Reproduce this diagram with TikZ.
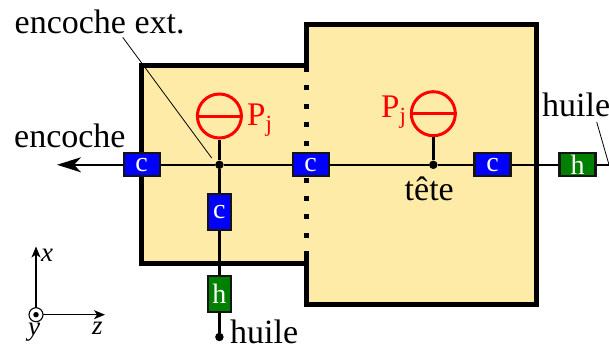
\documentclass[tikz,border=0pt]{standalone}
\usepackage{fontspec}
\setmainfont{Liberation Serif}
\usetikzlibrary{arrows.meta}
\definecolor{blockfill}{HTML}{FEEBA8}
\newcommand{\bigtxt}{\fontsize{34}{34}\selectfont}
\tikzset{
  x=1pt,y=-1pt,
  block/.style={draw=black,line width=5pt,fill=blockfill,miter limit=10},
  wire/.style={draw=black,line width=2.4pt},
  boxbase/.style={draw=black!92,line width=2.2pt,text=white,inner sep=0pt,font=\fontsize{28}{28}\selectfont},
  chor/.style={boxbase,fill=blue,minimum width=36pt,minimum height=23pt},
  cver/.style={boxbase,fill=blue,minimum width=23pt,minimum height=36pt},
  hhor/.style={boxbase,fill=green!50!black,minimum width=36pt,minimum height=23pt},
  hver/.style={boxbase,fill=green!50!black,minimum width=23pt,minimum height=36pt},
  junction/.style={circle,fill=black,inner sep=0pt,minimum size=8.5pt},
  gauge/.style={circle,draw=red,line width=3pt,inner sep=0pt,minimum size=44pt},
  gaugebar/.style={draw=red,line width=3pt},
  leader/.style={draw=black,line width=0.8pt},
  label/.style={inner sep=0pt,font=\bigtxt,anchor=base west},
  redlabel/.style={label,text=red,font=\fontsize{33}{33}\selectfont},
  axis/.style={draw=black,line width=1.1pt,-{Stealth[length=11pt,width=9pt,inset=3pt]}},
  axlabel/.style={inner sep=0pt,font=\fontsize{27}{27}\selectfont\itshape,anchor=base},
}
\begin{document}
\begin{tikzpicture}
\useasboundingbox (0,0) rectangle (609,345);
% blocks
\draw[block] (306,65) -- (141,65) -- (141,263) -- (306,263);
\fill[blockfill] (303,67.5) rectangle (309,260.5);
\draw[block] (306,65) -- (306,25) -- (536,25) -- (536,304) -- (306,304) -- (306,263);
\fill[blockfill] (303.5,27.5) rectangle (309,301.5);
\draw[black,line width=5pt] (306,22.5) -- (306,71.5);
\draw[black,line width=5pt] (306,251) -- (306,306.5);
\fill[blockfill] (308.5,27.5) rectangle (312,62);
\foreach \yy in {87.7,106.3,124.7,143.3,161.8,180.2,198.4,216.8,235.3}
  \fill[black] (303.5,\yy-2.5) rectangle (308.5,\yy+2.5);
% nodes
\node[junction] (j1) at (219.4,164.8) {};
\node[junction] (j2) at (433.3,164.8) {};
\node[junction] (oilb) at (219.4,337) {};
\coordinate (arrowend) at (57,164.8);
\coordinate (rightend) at (609,164.8);
\node[chor] (c1) at (141.6,164.8) {c};
\node[chor] (c2) at (310.6,164.8) {c};
\node[chor] (c3) at (492.5,164.8) {c};
\node[hhor] (h1) at (577.5,164.8) {h};
\node[cver] (c4) at (219.4,211.7) {c};
\node[hver] (h2) at (219.4,294) {h};
\node[gauge] (g1) at (219.4,116) {};
\node[gauge] (g2) at (433.3,113.7) {};
% wires
\draw[wire] (c1) -- (j1);
\draw[wire] (j1) -- (c2);
\draw[wire] (c2) -- (j2);
\draw[wire] (j2) -- (c3);
\draw[wire] (c3) -- (h1);
\draw[wire] (h1) -- (rightend);
\draw[wire] (j1) -- (g1);
\draw[wire] (j2) -- (g2);
\draw[wire] (j1) -- (c4);
\draw[wire] (c4) -- (h2);
\draw[wire] (h2) -- (oilb);
\draw[wire,-{Stealth[length=24pt,width=15pt,inset=7pt]}] (c1) -- (arrowend);
\draw[gaugebar] (g1.west) -- (g1.east);
\draw[gaugebar] (g2.west) -- (g2.east);
% leaders
\coordinate (l1a) at (122.7,37.3);
\coordinate (l1b) at (211.7,158);
\draw[leader] (l1a) -- (l1b);
\coordinate (l2a) at (596.7,122);
\draw[leader] (l2a) -- (rightend);
% labels
\node[label] (t1) at (14.5,33.3) {encoche ext.};
\node[label] (t2) at (14,147.5) {encoche};
\node[label] (t3) at (230,343.5) {huile};
\node[label] (t4) at (542,116) {huile};
\node[label] (t5) at (404.5,200) {tête};
\node[redlabel] (p1) at (247,125) {P\textsubscript{j}};
\node[redlabel] (p2) at (381,117) {P\textsubscript{j}};
% axes
\coordinate (o) at (36,314.7);
\coordinate (ax) at (36,246.5);
\coordinate (az) at (105,314.7);
\draw[axis] (o) -- (ax);
\draw[axis] (o) -- (az);
\node[circle,draw=black,fill=white,line width=1.1pt,inner sep=0pt,minimum size=14pt] (yc) at (o) {};
\node[circle,fill=black,inner sep=0pt,minimum size=5.5pt] (yd) at (o) {};
\node[axlabel,anchor=base west] (lx) at (41,261.5) {x};
\node[axlabel] (ly) at (34,335) {y};
\node[axlabel] (lz) at (97.5,334) {z};
\end{tikzpicture}
\end{document}
